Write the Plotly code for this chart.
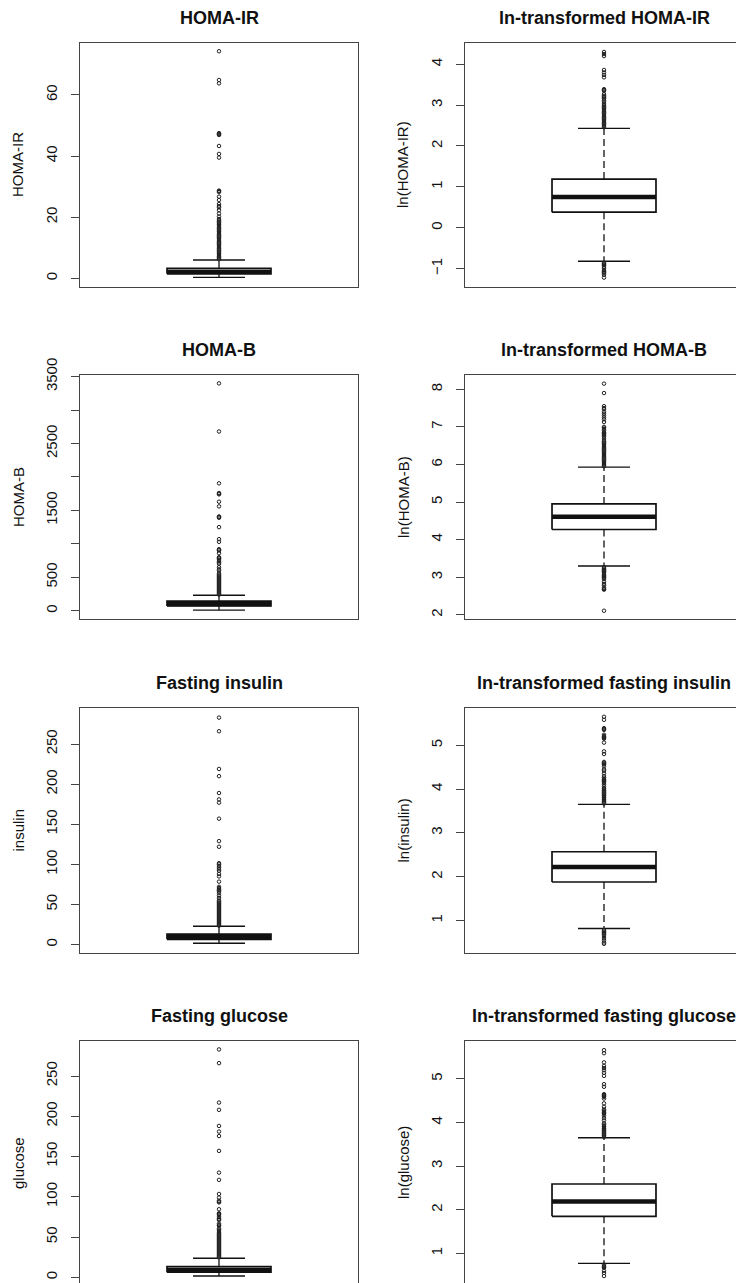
import plotly.graph_objects as go

# ---------------------------------------------------------------------------
# Box-plot summaries: [lower whisker, Q1, median, Q3, upper whisker]
# ---------------------------------------------------------------------------
homa_ir_stats = [0.30, 1.45, 2.12, 3.29, 6.0]
homa_ir_outliers = [6.2, 6.5, 6.9, 7.2, 7.6, 8.0, 8.3, 8.7, 9.1, 9.5, 9.8, 10.2,
                    10.6, 11.0, 11.4, 11.7, 12.1, 12.5, 12.9, 13.3, 13.6, 14.0,
                    14.4, 14.8, 15.2, 15.5, 15.9, 16.3, 16.7, 17.1, 17.5, 17.8,
                    18.2, 18.6, 19.0, 19.4, 20.2, 21.2, 22.3, 23.2, 23.6, 24.3,
                    25.6, 26.7, 28.2, 28.5, 28.7, 39.5, 40.7, 43.3, 46.9, 47.1,
                    47.3, 47.5, 63.8, 64.9, 74.3]

ln_homa_ir_stats = [-0.82, 0.38, 0.75, 1.19, 2.43]
ln_homa_ir_outliers = [2.46, 2.49, 2.52, 2.55, 2.58, 2.61, 2.64, 2.67, 2.70, 2.73,
                       2.76, 2.79, 2.82, 2.85, 2.88, 2.91, 2.94, 2.97, 3.00, 3.03,
                       3.08, 3.12, 3.16, 3.19, 3.21, 3.23, 3.27, 3.35, 3.37, 3.39,
                       3.68, 3.74, 3.80, 3.86, 4.20, 4.25, 4.30,
                       -0.86, -0.88, -0.90, -0.92, -0.96, -0.99, -1.04, -1.07,
                       -1.09, -1.11, -1.15, -1.22]

homa_b_stats = [8, 71, 101, 143, 232]
homa_b_outliers = [240, 255, 270, 285, 300, 315, 330, 345, 360, 375, 390, 405,
                   420, 435, 450, 465, 480, 495, 510, 525, 540, 560, 600, 620,
                   650, 700, 720, 740, 760, 780, 790, 800, 860, 900, 910, 920,
                   1030, 1070, 1250, 1390, 1400, 1410, 1560, 1630, 1740, 1750,
                   1760, 1905, 2680, 3400]

ln_homa_b_stats = [3.30, 4.27, 4.61, 4.95, 5.93]
ln_homa_b_outliers = [5.95, 5.98, 6.01, 6.04, 6.07, 6.10, 6.13, 6.16, 6.19, 6.22,
                      6.25, 6.28, 6.31, 6.34, 6.37, 6.40, 6.43, 6.46, 6.49, 6.52,
                      6.55, 6.58, 6.61, 6.65, 6.70, 6.75, 6.78, 6.81, 6.83, 6.85,
                      6.90, 6.94, 6.98, 7.00, 7.13, 7.20, 7.25, 7.30, 7.35, 7.40,
                      7.47, 7.50, 7.55, 7.90, 8.15,
                      3.27, 3.24, 3.21, 3.19, 3.17, 3.15, 3.12, 3.08, 3.05, 3.02,
                      3.00, 2.98, 2.95, 2.88, 2.82, 2.78, 2.72, 2.69, 2.67, 2.11]

insulin_stats = [1.6, 6.5, 9.1, 13.1, 22.8]
insulin_outliers = [23.5, 24.7, 26.0, 27.2, 28.5, 29.7, 31.0, 32.2, 33.5, 34.7,
                    36.0, 37.2, 38.5, 39.7, 41.0, 42.2, 43.5, 44.7, 46.0, 47.2,
                    48.5, 49.7, 51.0, 52.2, 53.5, 55.0, 58.0, 61.0, 64.0, 66.0,
                    67.5, 69.0, 70.5, 72.0, 78.5, 85.0, 88.0, 92.0, 94.0, 96.0,
                    98.0, 100.0, 101.5, 122.0, 129.0, 157.0, 177.0, 181.0, 189.0,
                    210.0, 219.0, 266.0, 283.0]

ln_insulin_stats = [0.82, 1.88, 2.22, 2.57, 3.65]
ln_insulin_outliers = [3.67, 3.70, 3.72, 3.75, 3.77, 3.80, 3.82, 3.85, 3.87, 3.90,
                       3.92, 3.95, 3.97, 4.00, 4.02, 4.06, 4.10, 4.14, 4.17, 4.19,
                       4.21, 4.23, 4.26, 4.30, 4.36, 4.42, 4.45, 4.52, 4.56, 4.58,
                       4.60, 4.62, 4.80, 4.86, 5.06, 5.15, 5.17, 5.19, 5.21, 5.24,
                       5.35, 5.37, 5.39, 5.58, 5.65,
                       0.78, 0.75, 0.73, 0.71, 0.69, 0.65, 0.60, 0.55, 0.50, 0.47]

glucose_stats = [1.6, 6.4, 9.0, 13.3, 23.6]
glucose_outliers = [24.5, 25.7, 27.0, 28.2, 29.5, 30.7, 32.0, 33.2, 34.5, 35.7,
                    37.0, 38.2, 39.5, 40.7, 42.0, 43.2, 44.5, 45.7, 47.0, 48.2,
                    49.5, 50.7, 52.0, 53.2, 54.5, 56.0, 57.5, 59.0, 60.5, 64.0,
                    65.0, 66.5, 71.0, 72.0, 73.0, 75.0, 77.5, 78.6, 79.5, 84.5,
                    93.0, 94.0, 95.0, 99.0, 103.5, 121.0, 130.0, 157.0, 175.5,
                    181.0, 188.0, 208.0, 217.0, 266.0, 283.0]

ln_glucose_stats = [0.77, 1.85, 2.19, 2.59, 3.65]
ln_glucose_outliers = [3.67, 3.70, 3.72, 3.75, 3.77, 3.80, 3.82, 3.85, 3.87, 3.90,
                       3.92, 3.95, 3.98, 4.05, 4.10, 4.16, 4.20, 4.22, 4.24, 4.27,
                       4.30, 4.36, 4.44, 4.55, 4.59, 4.61, 4.63, 4.65, 4.82, 4.88,
                       5.07, 5.14, 5.20, 5.25, 5.30, 5.38, 5.59, 5.66,
                       0.74, 0.71, 0.69, 0.67, 0.60, 0.55, 0.48]

# Panel titles and y-axis labels
titles = ["HOMA-IR", "ln-transformed HOMA-IR",
          "HOMA-B", "ln-transformed HOMA-B",
          "Fasting insulin", "ln-transformed fasting insulin",
          "Fasting glucose", "ln-transformed fasting glucose"]
ylabels = ["HOMA-IR", "ln(HOMA-IR)", "HOMA-B", "ln(HOMA-B)",
           "insulin", "ln(insulin)", "glucose", "ln(glucose)"]

# Tick values / labels per panel
tick_vals = [[0, 20, 40, 60], [-1, 0, 1, 2, 3, 4],
             [0, 500, 1000, 1500, 2000, 2500, 3000, 3500], [2, 3, 4, 5, 6, 7, 8],
             [0, 50, 100, 150, 200, 250], [1, 2, 3, 4, 5],
             [0, 50, 100, 150, 200, 250], [1, 2, 3, 4, 5]]
tick_text = [None, None, ["0", "500", "", "1500", "", "2500", "", "3500"], None,
             None, None, None, None]

# Visible y range of each panel
y_ranges = [[-2.85, 77.0], [-1.45, 4.52],
            [-124, 3525], [1.89, 8.38],
            [-10.5, 295.0], [0.26, 5.85],
            [-7.1, 293.5], [0.32, 5.87]]

stats_list = [homa_ir_stats, ln_homa_ir_stats, homa_b_stats, ln_homa_b_stats,
              insulin_stats, ln_insulin_stats, glucose_stats, ln_glucose_stats]
outlier_list = [homa_ir_outliers, ln_homa_ir_outliers, homa_b_outliers,
                ln_homa_b_outliers, insulin_outliers, ln_insulin_outliers,
                glucose_outliers, ln_glucose_outliers]

# ---------------------------------------------------------------------------
# Page geometry (pixels)
# ---------------------------------------------------------------------------
W, H = 736, 1283
col_left = [80, 465]            # left edge of the plotting frame per column
frame_w = 278                   # frame width in px
row_top = [43, 375, 708, 1041]
row_bot = [287, 619, 953, 1285]

FONT = "Liberation Sans, Arial, sans-serif"
INK = "#111111"
FRAME = "#444444"

CENTER = 0.5        # box position on the x scale
HALF_BOX = 0.187    # half box width
HALF_CAP = 0.0935   # half staple width

fig = go.Figure()
annotations = []

for i in range(8):
    row, col = divmod(i, 2)
    ax = "" if i == 0 else str(i + 1)
    xname, yname = "x" + ax, "y" + ax

    lo, q1, med, q3, hi = stats_list[i]

    # box outline
    fig.add_trace(go.Scatter(
        x=[CENTER - HALF_BOX, CENTER + HALF_BOX, CENTER + HALF_BOX,
           CENTER - HALF_BOX, CENTER - HALF_BOX],
        y=[q1, q1, q3, q3, q1], mode="lines",
        line=dict(color=INK, width=1.7), xaxis=xname, yaxis=yname,
        hoverinfo="skip"))
    # whiskers (dashed)
    fig.add_trace(go.Scatter(
        x=[CENTER, CENTER, None, CENTER, CENTER],
        y=[q3, hi, None, q1, lo], mode="lines",
        line=dict(color=INK, width=1.3, dash="7px,4px"),
        xaxis=xname, yaxis=yname, hoverinfo="skip"))
    # staples
    fig.add_trace(go.Scatter(
        x=[CENTER - HALF_CAP, CENTER + HALF_CAP, None,
           CENTER - HALF_CAP, CENTER + HALF_CAP],
        y=[hi, hi, None, lo, lo], mode="lines",
        line=dict(color=INK, width=1.4), xaxis=xname, yaxis=yname,
        hoverinfo="skip"))
    # median
    fig.add_trace(go.Scatter(
        x=[CENTER - HALF_BOX, CENTER + HALF_BOX], y=[med, med], mode="lines",
        line=dict(color=INK, width=4.5), xaxis=xname, yaxis=yname,
        hoverinfo="skip"))
    # outliers
    outs = outlier_list[i]
    fig.add_trace(go.Scatter(
        x=[CENTER] * len(outs), y=outs, mode="markers",
        marker=dict(symbol="circle-open", size=3.5, color="#222222",
                    line=dict(width=1.0)),
        xaxis=xname, yaxis=yname, hoverinfo="skip"))

    # axes
    x0 = col_left[col]
    x1 = min(x0 + frame_w, W)
    top = row_top[row]
    bot = min(row_bot[row], H)
    xdom = [x0 / W, x1 / W]
    ydom = [1 - bot / H, 1 - top / H]
    last_row = row == 3
    fig.layout[("xaxis" + ax)] = dict(
        domain=xdom, range=[0, (x1 - x0) / frame_w], anchor=yname,
        showline=True, linecolor=FRAME, linewidth=1.3,
        mirror=not last_row, side="top" if last_row else "bottom",
        showticklabels=False, ticks="", showgrid=False, zeroline=False,
        automargin=False, fixedrange=True)
    ycfg = dict(
        domain=ydom, range=y_ranges[i], anchor=xname,
        showline=True, linecolor=FRAME, linewidth=1.3,
        mirror=(col == 0), ticks="outside", ticklen=8, tickwidth=1.3,
        tickcolor=FRAME, tickangle=-90, tickvals=tick_vals[i],
        ticklabelstandoff=8,
        tickfont=dict(family=FONT, size=15, color=INK),
        showgrid=False, zeroline=False, automargin=False, fixedrange=True)
    if tick_text[i] is not None:
        ycfg["ticktext"] = tick_text[i]
    fig.layout[("yaxis" + ax)] = ycfg

    # panel title
    cx = (col_left[col] + frame_w / 2) / W
    annotations.append(dict(
        text=titles[i], x=cx, y=1 - (top - 25) / H, xref="paper", yref="paper",
        xanchor="center", yanchor="middle", showarrow=False,
        font=dict(family=FONT, size=18, color=INK, weight="bold")))
    # y-axis label
    annotations.append(dict(
        text=ylabels[i], x=(col_left[col] - 62) / W,
        y=1 - (row_top[row] + row_bot[row]) / 2 / H,
        xref="paper", yref="paper", xanchor="center", yanchor="middle",
        textangle=-90, showarrow=False,
        font=dict(family=FONT, size=15, color=INK)))

fig.update_layout(
    width=W, height=H, margin=dict(l=0, r=0, t=0, b=0, autoexpand=False),
    paper_bgcolor="white", plot_bgcolor="white", showlegend=False,
    annotations=annotations)

fig.write_html("out.html")
